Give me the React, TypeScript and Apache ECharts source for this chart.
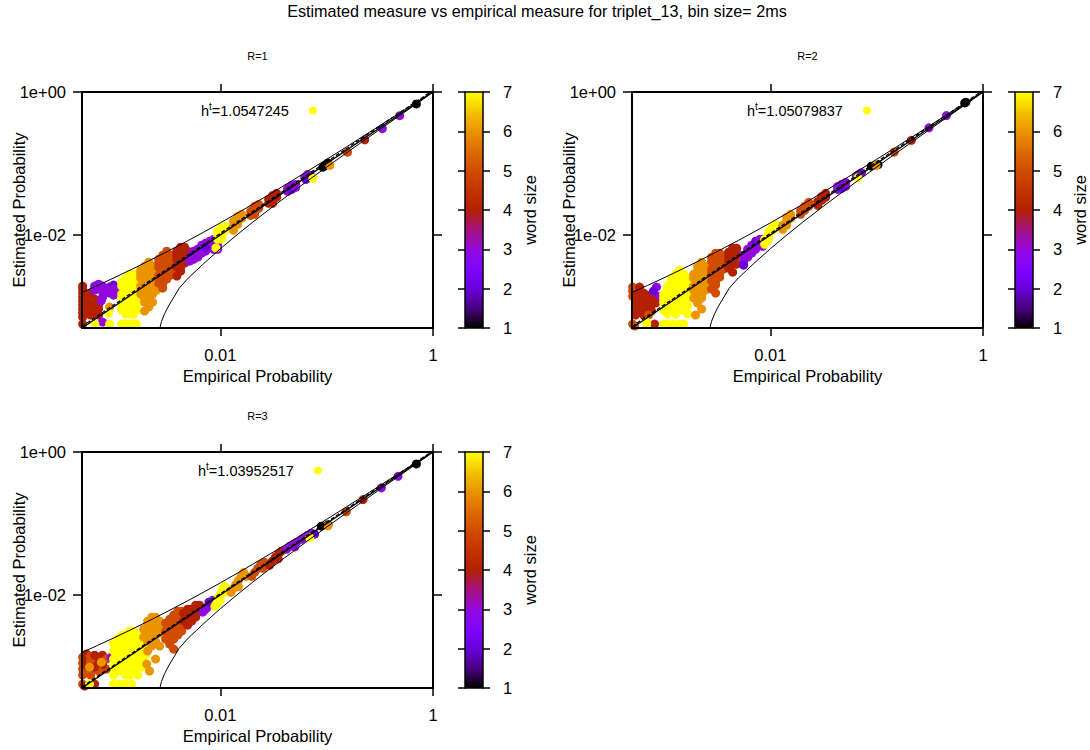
import React, { useEffect, useRef } from 'react';
import * as echarts from 'echarts';

const MAIN_TITLE = 'Estimated measure vs empirical measure for triplet_13, bin size= 2ms';
const PANEL_TITLES = ['R=1', 'R=2', 'R=3'];
const H_VALUES = ['1.0547245', '1.05079837', '1.03952517'];
const SERIES_NAMES = ['R1 words', 'R2 words', 'R3 words'];
const X_TICKS = [0.01, 1];
const Y_TICKS = [0.01, 1];
const AXIS_MIN = 5e-4;
const AXIS_MAX = 1;
const WORD_SIZE_MIN = 1;
const WORD_SIZE_MAX = 7;

// gnuplot-like palette (black - blue - purple - red - orange - yellow)
const PALETTE = ['#000000', '#4a0080', '#6801dd', '#8004ff', '#9309dd', '#a51280', '#b42000', '#c33300', '#d04c00', '#dd6c00', '#e99400', '#f4c400', '#ffff00'];

// confidence bounds [empirical, estimated]
const UPPER_BOUND = [[5e-4, 1.57e-3], [7e-4, 1.97e-3], [1e-3, 2.52e-3], [1.5e-3, 3.36e-3], [2e-3, 4.15e-3], [3e-3, 5.63e-3], [5e-3, 8.39e-3], [7e-3, 0.0110], [0.01, 0.01478], [0.015, 0.02084], [0.02, 0.02672], [0.03, 0.03819], [0.05, 0.06046], [0.07, 0.08225], [0.1, 0.1144], [0.15, 0.1671], [0.2, 0.2192], [0.3, 0.322], [0.5, 0.524], [0.7, 0.722], [0.9, 0.9144], [1, 1]];
const LOWER_BOUND = [[2.7e-3, 5e-4], [2.8e-3, 6.2e-4], [3.0e-3, 8.0e-4], [3.3e-3, 1.05e-3], [3.6e-3, 1.3e-3], [4.1e-3, 1.8e-3], [5e-3, 2.5e-3], [6e-3, 3.22e-3], [7e-3, 4.0e-3], [0.01, 6.42e-3], [0.015, 0.01062], [0.02, 0.01496], [0.03, 0.02386], [0.05, 0.04215], [0.07, 0.06082], [0.1, 0.0892], [0.15, 0.1371], [0.2, 0.1856], [0.3, 0.2835], [0.5, 0.482], [0.7, 0.6835], [0.9, 0.8892], [1, 1]];
const DIAGONAL = [[5e-4, 5e-4], [1, 1]];
const HT_LINE_1 = [[5e-4, 5.27e-4], [0.948, 1]];
const HT_LINE_2 = [[5e-4, 5.25e-4], [0.952, 1]];
const HT_LINE_3 = [[5e-4, 5.2e-4], [0.962, 1]];

// word groups: [word size, estimated probability, [empirical probabilities]]
const R1_GROUPS = [
  [4, 1.93e-3, [5.07e-4]], [4, 1.75e-3, [5.07e-4]], [4, 1.54e-3, [5.07e-4, 6.02e-4]], [4, 1.35e-3, [5.07e-4, 6.02e-4]],
  [4, 1.19e-3, [5.07e-4, 6.02e-4]], [4, 1.046e-3, [5.07e-4, 6.02e-4, 7.16e-4]], [4, 9.2e-4, [5.07e-4, 6.02e-4, 7.16e-4]],
  [4, 8.09e-4, [5.07e-4]], [4, 7.11e-4, [5.07e-4]], [4, 5.68e-4, [5.07e-4]],
  [4, 1.44e-3, [5.52e-4]], [4, 1.27e-3, [5.52e-4, 6.57e-4]], [4, 1.115e-3, [5.52e-4, 6.57e-4]], [4, 9.81e-4, [5.52e-4, 6.57e-4]],
  [4, 8.63e-4, [5.52e-4, 6.57e-4]], [4, 7.59e-4, [6.02e-4, 7.16e-4]],
  [3, 1.93e-3, [6.57e-4, 7.8e-4]], [3, 1.69e-3, [6.57e-4]], [3, 2.05e-3, [7.16e-4]], [3, 1.81e-3, [7.16e-4]],
  [3, 1.59e-3, [7.8e-4]], [3, 1.35e-3, [7.8e-4]], [3, 1.87e-3, [9.09e-4, 1.08e-3]], [3, 1.54e-3, [9.09e-4]],
  [2, 1.99e-3, [9.91e-4]], [3, 1.75e-3, [9.91e-4]], [3, 1.44e-3, [9.91e-4]], [3, 1.64e-3, [1.08e-3]],
  [3, 1.2e-3, [7.6e-4]], [3, 6.06e-4, [7.8e-4]],
  [6, 9.81e-4, [9.09e-4]],
  [7, 2.83e-3, [1.40e-3, 1.53e-3]],
  [7, 2.49e-3, [1.29e-3, 1.40e-3, 1.53e-3, 1.67e-3]],
  [7, 2.19e-3, [1.18e-3, 1.29e-3, 1.53e-3, 1.67e-3]],
  [7, 1.93e-3, [1.18e-3, 1.40e-3, 1.53e-3, 1.67e-3]],
  [7, 1.69e-3, [1.29e-3, 1.40e-3, 1.67e-3]],
  [7, 1.49e-3, [1.18e-3, 1.29e-3, 1.53e-3, 1.67e-3]],
  [7, 1.31e-3, [1.18e-3, 1.40e-3, 1.53e-3]],
  [7, 1.15e-3, [1.29e-3, 1.40e-3, 1.67e-3]],
  [7, 1.01e-3, [1.18e-3, 1.29e-3, 1.53e-3]],
  [7, 8.91e-4, [1.18e-3, 1.40e-3, 1.53e-3, 1.67e-3]],
  [7, 7.83e-4, [1.29e-3, 1.40e-3, 1.53e-3]],
  [7, 5.68e-4, [6.6e-4, 9.09e-4, 1.18e-3, 1.29e-3, 1.40e-3, 1.53e-3, 1.62e-3]],
  [7, 8.09e-4, [8.9e-4]],
  [6, 4.16e-3, [2.12e-3]], [6, 3.66e-3, [1.94e-3, 2.12e-3, 2.31e-3]], [6, 3.22e-3, [1.78e-3, 2.12e-3, 2.31e-3]],
  [6, 2.83e-3, [1.78e-3, 1.94e-3, 2.31e-3, 2.52e-3]], [6, 2.49e-3, [1.78e-3, 1.94e-3, 2.12e-3, 2.52e-3]],
  [6, 2.19e-3, [1.94e-3, 2.12e-3, 2.31e-3]], [6, 1.93e-3, [1.78e-3, 2.12e-3, 2.31e-3]], [6, 1.69e-3, [1.94e-3, 2.12e-3, 2.52e-3]],
  [6, 1.49e-3, [1.78e-3, 1.94e-3, 2.31e-3]], [6, 1.31e-3, [1.94e-3, 2.12e-3]], [6, 1.15e-3, [1.94e-3, 2.31e-3]],
  [6, 9.81e-4, [2.12e-3]], [6, 8.63e-4, [1.94e-3]],
  [5, 5.93e-3, [3.13e-3]], [5, 5.21e-3, [2.87e-3, 3.13e-3, 3.41e-3]], [5, 4.58e-3, [2.63e-3, 3.13e-3, 3.41e-3]],
  [5, 4.03e-3, [2.63e-3, 2.87e-3, 3.41e-3, 3.72e-3]], [5, 3.54e-3, [2.63e-3, 2.87e-3, 3.13e-3, 3.72e-3]],
  [5, 3.12e-3, [2.87e-3, 3.13e-3, 3.41e-3]], [5, 2.74e-3, [2.63e-3, 3.13e-3, 3.41e-3]], [5, 2.41e-3, [2.87e-3, 3.13e-3]],
  [5, 2.12e-3, [2.63e-3, 2.87e-3]], [5, 1.81e-3, [2.87e-3]],
  [4, 6.74e-3, [4.23e-3, 4.61e-3]], [4, 5.93e-3, [3.90e-3, 4.23e-3, 4.61e-3, 4.92e-3]], [4, 5.21e-3, [3.90e-3, 4.23e-3, 4.92e-3]],
  [4, 4.58e-3, [3.90e-3, 4.61e-3, 4.92e-3]], [4, 4.03e-3, [4.23e-3, 4.61e-3]], [4, 3.54e-3, [3.90e-3, 4.23e-3]],
  [4, 3.12e-3, [4.23e-3]], [4, 2.66e-3, [3.90e-3]],
  [3, 4.89e-3, [5.14e-3, 6.12e-3]], [3, 4.30e-3, [5.14e-3]], [3, 5.93e-3, [5.61e-3, 7.27e-3]], [2, 5.21e-3, [5.61e-3]], [3, 4.58e-3, [5.61e-3]],
  [3, 6.32e-3, [6.12e-3, 6.67e-3, 8.65e-3]], [3, 5.56e-3, [6.12e-3, 6.67e-3]], [3, 7.18e-3, [6.67e-3, 7.93e-3, 9.43e-3]],
  [3, 7.66e-3, [7.27e-3, 8.65e-3]], [2, 6.74e-3, [7.27e-3]], [3, 8.17e-3, [7.93e-3]], [3, 8.71e-3, [8.65e-3]], [3, 6.32e-3, [9.43e-3]],
  [7, 1.126e-2, [9.43e-3, 1.029e-2]], [7, 9.90e-3, [9.43e-3, 1.029e-2]], [7, 8.71e-3, [9.43e-3, 1.029e-2]], [7, 1.281e-2, [1.029e-2]],
  [7, 1.32e-2, [1.12e-2]], [7, 1.163e-2, [1.12e-2]], [7, 6.6e-3, [9.1e-3]],
  [6, 1.553e-2, [1.33e-2]], [6, 1.32e-2, [1.33e-2]], [6, 1.163e-2, [1.33e-2]], [6, 1.823e-2, [1.455e-2]], [6, 1.603e-2, [1.455e-2]],
  [6, 1.41e-2, [1.455e-2]], [6, 1.945e-2, [1.586e-2]], [6, 1.711e-2, [1.586e-2]],
  [5, 2.14e-2, [1.928e-2]], [5, 1.88e-2, [1.928e-2]], [5, 2.52e-2, [2.103e-2]], [5, 2.21e-2, [2.103e-2]], [5, 1.945e-2, [2.103e-2]],
  [5, 2.68e-2, [2.293e-2]], [5, 2.36e-2, [2.293e-2]],
  [4, 3.15e-2, [2.847e-2, 3.105e-2]], [4, 2.77e-2, [2.847e-2, 3.105e-2]], [4, 3.58e-2, [3.105e-2]], [4, 3.82e-2, [3.385e-2]], [4, 3.36e-2, [3.385e-2]],
  [3, 4.48e-2, [4.296e-2]], [3, 4.07e-2, [4.296e-2]], [3, 4.93e-2, [4.685e-2]], [2, 4.34e-2, [4.685e-2]], [3, 5.09e-2, [5.11e-2]], [3, 4.63e-2, [5.11e-2]],
  [3, 6.38e-2, [6.21e-2]], [3, 7.02e-2, [6.63e-2]], [3, 6.7e-2, [7.07e-2]], [2, 5.98e-2, [6.4e-2]], [7, 6.18e-2, [7.43e-2]],
  [1, 8.87e-2, [9.23e-2]], [1, 0.102, [0.1028]], [1, 9.4e-2, [9.7e-2]], [6, 9.4e-2, [0.107]],
  [5, 0.144, [0.157]], [4, 0.214, [0.228]], [3, 0.308, [0.334]], [3, 0.467, [0.486]], [1, 0.681, [0.698]]
];

const R2_GROUPS = [
  [5, 1.87e-3, [5.07e-4]], [5, 1.64e-3, [5.07e-4]], [5, 1.39e-3, [5.07e-4]], [5, 5.68e-4, [5.07e-4]], [5, 5.33e-4, [5.29e-4]],
  [4, 1.44e-3, [5.41e-4, 7.01e-4]], [4, 1.27e-3, [5.41e-4, 7.01e-4, 7.64e-4]], [4, 1.115e-3, [5.41e-4, 7.01e-4, 8.34e-4]],
  [4, 9.81e-4, [5.41e-4, 7.01e-4]], [4, 8.63e-4, [5.41e-4, 6.43e-4, 7.64e-4]], [4, 7.59e-4, [5.41e-4, 6.43e-4]],
  [4, 1.87e-3, [5.89e-4]], [4, 1.64e-3, [5.89e-4]], [4, 1.35e-3, [5.89e-4, 6.43e-4, 8.34e-4]], [4, 1.19e-3, [5.89e-4, 6.43e-4]],
  [4, 1.046e-3, [5.89e-4, 6.43e-4, 7.64e-4]], [4, 9.2e-4, [5.89e-4]], [4, 1.54e-3, [6.43e-4]], [4, 5.68e-4, [8.15e-4]],
  [5, 7.59e-4, [7.16e-4]],
  [3, 1.87e-3, [8.5e-4]], [3, 1.39e-3, [9.09e-4]], [2, 1.64e-3, [7.97e-4]],
  [7, 6.06e-4, [6.87e-4]],
  [7, 3.22e-3, [1.40e-3]], [7, 2.83e-3, [1.29e-3, 1.53e-3]], [7, 2.49e-3, [1.18e-3, 1.40e-3, 1.67e-3]],
  [7, 2.19e-3, [1.18e-3, 1.29e-3, 1.53e-3, 1.67e-3]], [7, 1.93e-3, [1.08e-3, 1.29e-3, 1.40e-3, 1.67e-3]],
  [7, 1.69e-3, [1.08e-3, 1.18e-3, 1.40e-3, 1.53e-3]], [7, 1.49e-3, [9.91e-4, 1.18e-3, 1.29e-3, 1.53e-3, 1.67e-3]],
  [7, 1.31e-3, [9.91e-4, 1.08e-3, 1.29e-3, 1.40e-3, 1.67e-3]], [7, 1.15e-3, [9.91e-4, 1.18e-3, 1.40e-3, 1.53e-3]],
  [7, 1.01e-3, [1.08e-3, 1.29e-3, 1.53e-3, 1.67e-3]], [7, 8.91e-4, [9.91e-4, 1.18e-3, 1.40e-3, 1.53e-3]],
  [7, 7.83e-4, [1.08e-3, 1.29e-3, 1.67e-3]], [7, 5.68e-4, [6.87e-4, 9.91e-4, 1.08e-3, 1.23e-3, 1.40e-3, 1.53e-3]],
  [6, 4.16e-3, [2.26e-3]], [6, 3.66e-3, [2.07e-3, 2.26e-3, 2.46e-3]], [6, 3.22e-3, [2.07e-3, 2.46e-3]],
  [6, 2.83e-3, [1.90e-3, 2.26e-3, 2.46e-3]], [6, 2.49e-3, [1.90e-3, 2.07e-3, 2.26e-3, 2.68e-3]],
  [6, 2.19e-3, [2.07e-3, 2.26e-3, 2.46e-3]], [6, 1.93e-3, [1.90e-3, 2.07e-3, 2.46e-3, 2.68e-3]],
  [6, 1.69e-3, [1.90e-3, 2.26e-3, 2.46e-3]], [6, 1.49e-3, [2.07e-3, 2.26e-3]], [6, 1.31e-3, [1.90e-3, 2.26e-3]],
  [6, 1.115e-3, [2.07e-3]], [6, 9.2e-4, [2.26e-3]], [6, 7.59e-4, [1.98e-3]],
  [5, 5.56e-3, [3.06e-3, 3.34e-3]], [5, 4.89e-3, [2.80e-3, 3.06e-3, 3.64e-3]], [5, 4.30e-3, [2.80e-3, 3.34e-3, 3.64e-3]],
  [5, 3.78e-3, [3.06e-3, 3.34e-3]], [5, 3.32e-3, [2.80e-3, 3.06e-3, 3.64e-3]], [5, 2.92e-3, [2.80e-3, 3.34e-3]],
  [5, 2.57e-3, [3.06e-3, 3.34e-3]], [5, 2.26e-3, [2.80e-3, 3.06e-3]], [5, 1.99e-3, [3.06e-3]], [5, 1.75e-3, [2.80e-3]], [5, 1.54e-3, [3.06e-3]],
  [4, 6.53e-3, [4.42e-3, 4.82e-3]], [4, 5.74e-3, [4.05e-3, 4.42e-3, 4.82e-3]], [4, 5.05e-3, [4.05e-3, 4.82e-3]],
  [4, 4.44e-3, [4.05e-3, 4.42e-3]], [4, 3.90e-3, [4.42e-3, 4.82e-3]], [4, 3.43e-3, [4.05e-3]], [4, 3.02e-3, [4.42e-3]],
  [3, 5.21e-3, [5.61e-3]], [3, 4.30e-3, [5.61e-3]], [2, 3.78e-3, [5.61e-3]], [3, 6.32e-3, [6.12e-3, 6.67e-3, 7.27e-3]],
  [3, 5.56e-3, [6.12e-3, 6.67e-3]], [3, 4.89e-3, [6.12e-3]], [3, 7.18e-3, [6.67e-3, 7.27e-3]], [2, 8.17e-3, [7.27e-3]],
  [3, 8.71e-3, [7.93e-3, 8.47e-3]], [3, 7.66e-3, [7.93e-3]], [3, 6.96e-3, [8.47e-3]],
  [7, 8.71e-3, [8.84e-3, 9.64e-3]], [7, 7.42e-3, [8.84e-3]], [7, 1.126e-2, [9.64e-3]], [7, 9.9e-3, [9.64e-3]],
  [7, 1.32e-2, [1.051e-2]], [7, 1.163e-2, [1.051e-2]], [7, 1.41e-2, [1.122e-2]],
  [6, 1.365e-2, [1.305e-2, 1.423e-2]], [6, 1.2e-2, [1.305e-2]], [6, 1.766e-2, [1.423e-2]], [6, 1.553e-2, [1.423e-2]],
  [6, 1.945e-2, [1.552e-2]], [6, 1.711e-2, [1.552e-2]],
  [5, 2.21e-2, [1.928e-2, 2.103e-2]], [5, 1.945e-2, [1.928e-2]], [5, 2.52e-2, [2.103e-2, 2.293e-2]], [5, 2.86e-2, [2.293e-2]],
  [4, 2.95e-2, [2.79e-2]], [4, 2.59e-2, [2.79e-2]], [4, 3.46e-2, [3.04e-2]], [4, 3.05e-2, [3.04e-2]], [4, 3.82e-2, [3.31e-2]], [4, 3.36e-2, [3.31e-2]],
  [3, 4.78e-2, [4.30e-2, 5.11e-2]], [3, 4.34e-2, [4.30e-2]], [3, 5.09e-2, [4.69e-2]], [2, 4.48e-2, [4.69e-2]], [3, 5.43e-2, [5.11e-2]],
  [3, 6.67e-2, [6.43e-2]], [3, 7.45e-2, [7.2e-2]], [2, 7.05e-2, [6.8e-2]], [7, 6.33e-2, [6.66e-2]],
  [1, 9.16e-2, [8.9e-2]], [1, 9.62e-2, [0.103]], [6, 9.4e-2, [9.9e-2]],
  [5, 0.144, [0.146]], [4, 0.211, [0.212]], [3, 0.315, [0.31]], [3, 0.468, [0.453]], [1, 0.703, [0.673]], [1, 0.72, [0.69]]
];

const R3_GROUPS = [
  [5, 1.35e-3, [5.07e-4, 7.16e-4]], [5, 1.115e-3, [5.07e-4, 7.16e-4]], [5, 9.2e-4, [5.07e-4, 8.5e-4]], [5, 7.59e-4, [5.07e-4, 6.02e-4]], [5, 5.68e-4, [5.07e-4]],
  [4, 1.49e-3, [5.52e-4]], [4, 1.27e-3, [5.52e-4, 6.57e-4]], [4, 1.046e-3, [5.52e-4, 7.8e-4]],
  [5, 1.39e-3, [6.02e-4]], [5, 1.19e-3, [6.02e-4]], [5, 8.63e-4, [6.02e-4, 7.16e-4]],
  [4, 1.44e-3, [6.57e-4, 7.8e-4]], [4, 9.81e-4, [6.57e-4]], [5, 1.27e-3, [8.5e-4]],
  [6, 9.81e-4, [5.89e-4]], [6, 1.15e-3, [7.6e-4]], [3, 1.35e-3, [9.4e-4]],
  [4, 5.33e-4, [5.29e-4]], [4, 5.68e-4, [6.57e-4]],
  [7, 3.12e-3, [1.40e-3, 1.53e-3]], [7, 2.74e-3, [1.18e-3, 1.29e-3, 1.53e-3, 1.67e-3]],
  [7, 2.41e-3, [1.08e-3, 1.29e-3, 1.40e-3, 1.67e-3, 1.82e-3]], [7, 2.12e-3, [9.91e-4, 1.18e-3, 1.40e-3, 1.53e-3, 1.82e-3, 1.98e-3]],
  [7, 1.87e-3, [1.08e-3, 1.18e-3, 1.29e-3, 1.53e-3, 1.67e-3, 1.98e-3]], [7, 1.64e-3, [9.91e-4, 1.18e-3, 1.40e-3, 1.67e-3, 1.82e-3]],
  [7, 1.44e-3, [1.08e-3, 1.29e-3, 1.40e-3, 1.53e-3, 1.98e-3]], [7, 1.27e-3, [9.91e-4, 1.18e-3, 1.29e-3, 1.67e-3, 1.82e-3]],
  [7, 1.115e-3, [1.08e-3, 1.18e-3, 1.40e-3, 1.53e-3]], [7, 9.81e-4, [9.91e-4, 1.29e-3, 1.40e-3, 1.67e-3, 1.82e-3]],
  [7, 8.63e-4, [1.08e-3, 1.18e-3, 1.53e-3]], [7, 7.59e-4, [9.91e-4, 1.29e-3, 1.40e-3, 1.67e-3]],
  [7, 5.68e-4, [5.89e-4, 9.91e-4, 1.13e-3, 1.29e-3, 1.47e-3]],
  [6, 4.89e-3, [2.26e-3, 2.46e-3]], [6, 4.30e-3, [2.07e-3, 2.46e-3, 2.68e-3]], [6, 3.78e-3, [2.07e-3, 2.26e-3, 2.68e-3]],
  [6, 3.32e-3, [1.90e-3, 2.26e-3, 2.46e-3]], [6, 2.92e-3, [2.07e-3, 2.46e-3, 2.68e-3]], [6, 2.57e-3, [1.90e-3, 2.26e-3]],
  [6, 2.26e-3, [2.07e-3, 2.46e-3]], [6, 1.93e-3, [2.26e-3, 2.68e-3]], [6, 1.64e-3, [2.07e-3]], [6, 1.27e-3, [2.46e-3]],
  [6, 1.08e-3, [2.03e-3]], [6, 8.63e-4, [2.16e-3]],
  [5, 5.93e-3, [3.97e-3, 4.33e-3]], [5, 5.21e-3, [3.64e-3, 3.97e-3, 4.71e-3]], [5, 4.58e-3, [3.34e-3, 3.64e-3, 4.33e-3]],
  [5, 4.03e-3, [3.06e-3, 3.64e-3, 3.97e-3, 4.71e-3]], [5, 3.54e-3, [3.34e-3, 3.97e-3, 4.33e-3]], [5, 3.12e-3, [3.06e-3, 3.64e-3, 4.33e-3]],
  [5, 2.74e-3, [3.34e-3, 3.97e-3]], [5, 2.41e-3, [3.06e-3, 3.64e-3]], [5, 2.05e-3, [3.34e-3]], [5, 1.75e-3, [3.64e-3]],
  [4, 7.18e-3, [5.86e-3, 6.39e-3]], [4, 6.32e-3, [4.92e-3, 5.37e-3, 6.39e-3]], [4, 5.56e-3, [4.51e-3, 5.37e-3, 5.86e-3]],
  [4, 4.89e-3, [4.92e-3, 5.86e-3]], [4, 4.30e-3, [4.51e-3, 5.37e-3]], [4, 3.78e-3, [4.92e-3]],
  [3, 5.74e-3, [6.82e-3]], [3, 6.53e-3, [7.43e-3]], [3, 7.42e-3, [8.1e-3]], [3, 8.44e-3, [8.5e-3]], [2, 7.91e-3, [7.8e-3]], [3, 6.1e-3, [7.1e-3]],
  [7, 6.96e-3, [8.9e-3]], [7, 8.44e-3, [9.3e-3, 1.0e-2]], [7, 9.59e-3, [9.7e-3]], [7, 1.091e-2, [1.02e-2, 1.1e-2]],
  [7, 1.24e-2, [1.06e-2]], [7, 1.32e-2, [1.1e-2]], [7, 7.4e-3, [9.2e-3]],
  [6, 1.09e-2, [1.26e-2]], [6, 1.24e-2, [1.33e-2]], [6, 1.41e-2, [1.40e-2]], [6, 1.60e-2, [1.48e-2]], [6, 1.82e-2, [1.57e-2, 1.75e-2]],
  [6, 2.07e-2, [1.66e-2]], [6, 1.3e-2, [1.48e-2]],
  [5, 1.82e-2, [1.97e-2]], [5, 2.07e-2, [2.1e-2]], [5, 2.36e-2, [2.25e-2, 2.5e-2]], [5, 2.68e-2, [2.4e-2]], [5, 2.86e-2, [2.6e-2]],
  [4, 2.6e-2, [2.9e-2]], [4, 3.0e-2, [3.1e-2]], [4, 3.4e-2, [3.3e-2]], [4, 3.8e-2, [3.55e-2]], [4, 4.1e-2, [3.75e-2]], [4, 3.2e-2, [3.5e-2]],
  [3, 4.35e-2, [4.2e-2]], [3, 4.8e-2, [4.5e-2]], [3, 5.1e-2, [4.85e-2]], [3, 5.4e-2, [5.2e-2]], [3, 4.7e-2, [5.0e-2]],
  [3, 6.0e-2, [5.8e-2]], [3, 6.4e-2, [6.2e-2]], [3, 6.9e-2, [6.7e-2]], [3, 7.3e-2, [7.2e-2]], [2, 7.1e-2, [7.7e-2]], [7, 6.33e-2, [6.93e-2]],
  [1, 9.16e-2, [8.9e-2]], [1, 9.62e-2, [0.103]], [6, 9.3e-2, [0.103]],
  [5, 0.146, [0.153]], [4, 0.216, [0.220]], [3, 0.315, [0.327]], [3, 0.457, [0.469]], [1, 0.681, [0.698]]
];

const FONT = "'Liberation Sans', Arial, Helvetica, sans-serif";

const fmtX = (v: number) => (v >= 0.99 ? '1' : String(Number(v.toPrecision(2))));
const fmtY = (v: number) => {
  const e = Math.round(Math.log10(v));
  return '1e' + (e < 0 ? '-' : '+') + String(Math.abs(e)).padStart(2, '0');
};

// flatten groups into [empirical, estimated, word size] points
const toPoints = (groups: any[]) => {
  const out: number[][] = [];
  groups.forEach(([ws, est, emps]) => emps.forEach((emp: number) => out.push([emp, est, ws])));
  return out;
};

export default function App() {
  const ref = useRef<HTMLDivElement>(null);
  useEffect(() => {
    if (!ref.current) return;
    const chart = echarts.init(ref.current, null, { renderer: 'svg' });

    const panels = [
      { left: 82, top: 92, cbLeft: 465, groups: R1_GROUPS, ht: HT_LINE_1, h: H_VALUES[0], title: PANEL_TITLES[0], name: SERIES_NAMES[0], legendLeft: 201 },
      { left: 632, top: 92, cbLeft: 1015, groups: R2_GROUPS, ht: HT_LINE_2, h: H_VALUES[1], title: PANEL_TITLES[1], name: SERIES_NAMES[1], legendLeft: 747 },
      { left: 82, top: 452, cbLeft: 465, groups: R3_GROUPS, ht: HT_LINE_3, h: H_VALUES[2], title: PANEL_TITLES[2], name: SERIES_NAMES[2], legendLeft: 198 }
    ];
    const PW = 351, PH = 236, CBW = 18;

    const grids: any[] = [];
    const xAxes: any[] = [];
    const yAxes: any[] = [];
    const series: any[] = [];
    const visualMaps: any[] = [];
    const legends: any[] = [];
    const graphics: any[] = [
      { type: 'text', x: 537, y: 11, style: { text: MAIN_TITLE, font: `16.2px ${FONT}`, fill: '#000', align: 'center', verticalAlign: 'middle' } }
    ];

    const frameLine = { show: true, onZero: false, lineStyle: { color: '#000', width: 2 } };
    const tickStyle = { color: '#000', width: 1.5 };
    const labelText = { color: '#000', fontSize: 16.5, fontFamily: FONT };

    panels.forEach((p, k) => {
      grids.push({ left: p.left, top: p.top, width: PW, height: PH, containLabel: false });
      const g = k;
      xAxes.push({
        type: 'log', logBase: 10, gridIndex: g, position: 'bottom', min: AXIS_MIN, max: AXIS_MAX,
        axisLine: frameLine,
        axisTick: { show: true, customValues: X_TICKS, length: 8, lineStyle: tickStyle },
        axisLabel: { show: true, customValues: X_TICKS, formatter: fmtX, margin: 18, ...labelText },
        splitLine: { show: false }, minorTick: { show: false },
        name: 'Empirical Probability', nameLocation: 'middle', nameGap: 39, nameMoveOverlap: false, nameTextStyle: labelText, z: 10
      });
      xAxes.push({
        type: 'log', logBase: 10, gridIndex: g, position: 'top', min: AXIS_MIN, max: AXIS_MAX,
        axisLine: frameLine,
        axisTick: { show: true, customValues: X_TICKS, length: 8, lineStyle: tickStyle },
        axisLabel: { show: false }, splitLine: { show: false }, z: 10
      });
      yAxes.push({
        type: 'log', logBase: 10, gridIndex: g, position: 'left', min: AXIS_MIN, max: AXIS_MAX,
        axisLine: frameLine,
        axisTick: { show: true, customValues: Y_TICKS, length: 9, lineStyle: tickStyle },
        axisLabel: { show: true, customValues: Y_TICKS, formatter: fmtY, margin: 16, ...labelText },
        splitLine: { show: false },
        name: 'Estimated Probability', nameLocation: 'middle', nameGap: 55, nameMoveOverlap: false, nameTextStyle: labelText, z: 10
      });
      yAxes.push({
        type: 'log', logBase: 10, gridIndex: g, position: 'right', min: AXIS_MIN, max: AXIS_MAX,
        axisLine: frameLine,
        axisTick: { show: true, customValues: Y_TICKS, length: 9, lineStyle: tickStyle },
        axisLabel: { show: false }, splitLine: { show: false }, z: 10
      });
      const xi = 2 * k, yi = 2 * k;
      const scatterIndex = series.length;
      series.push({
        type: 'scatter', name: p.name, xAxisIndex: xi, yAxisIndex: yi, data: toPoints(p.groups),
        symbol: 'circle', symbolSize: 9, itemStyle: { color: '#ffff00', opacity: 1 }, z: 2, silent: true
      });
      const lineBase = { type: 'line', xAxisIndex: xi, yAxisIndex: yi, symbol: 'none', silent: true, z: 5, clip: true, smooth: false };
      series.push({ ...lineBase, name: 'upper' + k, data: UPPER_BOUND, lineStyle: { color: '#000', width: 1 } });
      series.push({ ...lineBase, name: 'lower' + k, data: LOWER_BOUND, lineStyle: { color: '#000', width: 1 } });
      series.push({ ...lineBase, name: 'diag' + k, data: DIAGONAL, lineStyle: { color: '#000', width: 1.3 } });
      series.push({ ...lineBase, name: 'ht' + k, data: p.ht, lineStyle: { color: '#000', width: 1.3, type: [4, 2] } });

      visualMaps.push({
        type: 'continuous', min: WORD_SIZE_MIN, max: WORD_SIZE_MAX, dimension: 2, seriesIndex: scatterIndex,
        inRange: { color: PALETTE }, left: p.cbLeft, top: p.top, itemWidth: CBW, itemHeight: PH,
        calculable: false, hoverLink: false, padding: 0, show: true, z: 3
      });
      legends.push({
        data: [p.name], left: p.legendLeft, top: p.top + 9, align: 'right', icon: 'circle', itemWidth: 38, itemHeight: 8,
        selectedMode: false, padding: 0,
        formatter: () => `{b|h}{s|t}{b|=${p.h}}`,
        textStyle: {
          color: '#000', fontSize: 14.5, fontFamily: FONT,
          rich: { b: { fontSize: 14.5, fontFamily: FONT, color: '#000' }, s: { fontSize: 10, fontFamily: FONT, color: '#000', padding: [0, 0, 9, 0] } }
        }
      });
      graphics.push({ type: 'text', x: p.left + PW / 2, y: p.top - 36, style: { text: p.title, font: `11px ${FONT}`, fill: '#000', align: 'center', verticalAlign: 'middle' } });
    });

    // colorbar frames with word-size axis
    panels.forEach((p) => {
      const g = grids.length;
      grids.push({ left: p.cbLeft, top: p.top, width: CBW, height: PH, containLabel: false });
      const cbLine = { show: true, onZero: false, lineStyle: { color: '#000', width: 1.5 } };
      xAxes.push({ type: 'value', gridIndex: g, position: 'bottom', min: 0, max: 1, axisLine: cbLine, axisTick: { show: false }, axisLabel: { show: false }, splitLine: { show: false }, z: 10 });
      xAxes.push({ type: 'value', gridIndex: g, position: 'top', min: 0, max: 1, axisLine: cbLine, axisTick: { show: false }, axisLabel: { show: false }, splitLine: { show: false }, z: 10 });
      yAxes.push({
        type: 'value', gridIndex: g, position: 'right', min: WORD_SIZE_MIN, max: WORD_SIZE_MAX, interval: 1,
        axisLine: cbLine, axisTick: { show: true, length: 7, lineStyle: tickStyle },
        axisLabel: { show: true, margin: 20, ...labelText }, splitLine: { show: false },
        name: 'word size', nameLocation: 'middle', nameGap: 38, nameRotate: 90, nameMoveOverlap: false, nameTextStyle: labelText, z: 10
      });
      yAxes.push({
        type: 'value', gridIndex: g, position: 'left', min: WORD_SIZE_MIN, max: WORD_SIZE_MAX, interval: 1,
        axisLine: cbLine, axisTick: { show: true, length: 7, lineStyle: tickStyle },
        axisLabel: { show: false }, splitLine: { show: false }, z: 10
      });
    });

    chart.setOption({
      animation: false,
      backgroundColor: '#ffffff',
      textStyle: { fontFamily: FONT },
      grid: grids,
      xAxis: xAxes,
      yAxis: yAxes,
      visualMap: visualMaps,
      legend: legends,
      graphic: graphics,
      series
    });
    return () => chart.dispose();
  }, []);
  return <div ref={ref} style={{ position: 'absolute', left: 0, top: 0, width: 1090, height: 750 }} />;
}
